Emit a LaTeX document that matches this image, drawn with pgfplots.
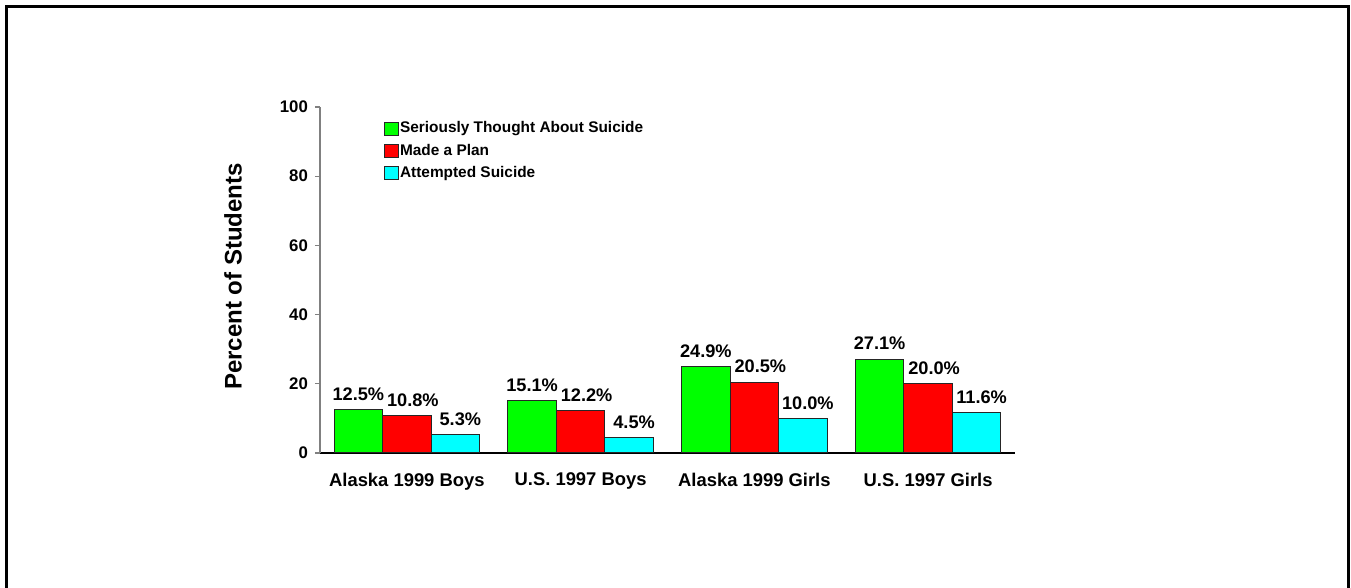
\documentclass[border=0pt]{standalone}
\usepackage{fontspec}
\setmainfont{Liberation Sans}
\usepackage{pgfplots}
\pgfplotsset{compat=1.18}
\definecolor{barG}{RGB}{0,255,0}
\definecolor{barR}{RGB}{255,0,0}
\definecolor{barC}{RGB}{0,255,255}
\begin{document}
\begin{tikzpicture}
\useasboundingbox (-160pt,-67.5pt) rectangle (515.5pt,226.5pt);
\draw[line width=1.5pt] (-156.5pt,-70pt) -- (-156.5pt,223pt) -- (514pt,223pt) -- (514pt,-70pt);
\begin{axis}[
  scale only axis, width=347.5pt, height=173pt,
  ybar=0pt, bar width=24.25pt,
  xmin=-0.5, xmax=3.5, ymin=0, ymax=100,
  xtick={0,1,2,3},
  xticklabels={Alaska 1999 Boys,U.S. 1997 Boys,Alaska 1999 Girls,U.S. 1997 Girls},
  ytick={0,20,...,100},
  axis lines*=left,
  x axis line style={black, line width=0.6pt},
  y axis line style={gray, line width=0.6pt},
  x tick style={draw=none},
  y tick style={gray, line width=0.6pt},
  tick align=outside, major tick length=2.5pt,
  /pgf/number format/assume math mode=true,
  xticklabel style={font=\bfseries\fontsize{9.2}{11}\selectfont, yshift=-4pt},
  yticklabel style={font=\bfseries\fontsize{8.4}{10}\selectfont},
  ylabel={Percent of Students},
  ylabel style={font=\bfseries\fontsize{12}{14}\selectfont, at={(axis description cs:-0.125,0.51)}, anchor=center},
  nodes near coords={\pgfmathprintnumber[fixed,precision=1,fixed zerofill]{\pgfplotspointmeta}\%},
  nodes near coords style={font=\bfseries\fontsize{9.1}{11}\selectfont, yshift=1pt},
  legend image code/.code={\draw[#1,line width=0.5pt] (0pt,-3.3pt) rectangle (6.8pt,3.3pt);},
  legend cell align=left,
  legend style={at={(axis description cs:0.083,0.873)}, anchor=west, draw=none, fill=none,
    font=\bfseries\fontsize{7.7}{9}\selectfont, row sep=2.6pt,
    nodes={inner sep=0.7pt}},
]
\addplot[fill=barG, draw=black!85, line width=0.5pt] coordinates {(0,12.5) (1,15.1) (2,24.9) (3,27.1)};
\addplot[fill=barR, draw=black!85, line width=0.5pt,
  nodes near coords style={xshift=3pt}] coordinates {(0,10.8) (1,12.2) (2,20.5) (3,20.0)};
\addplot[fill=barC, draw=black!85, line width=0.5pt,
  nodes near coords style={xshift=2.5pt}] coordinates {(0,5.3) (1,4.5) (2,10.0) (3,11.6)};
\legend{Seriously Thought About Suicide,Made a Plan,Attempted Suicide}
\end{axis}
\end{tikzpicture}
\end{document}
